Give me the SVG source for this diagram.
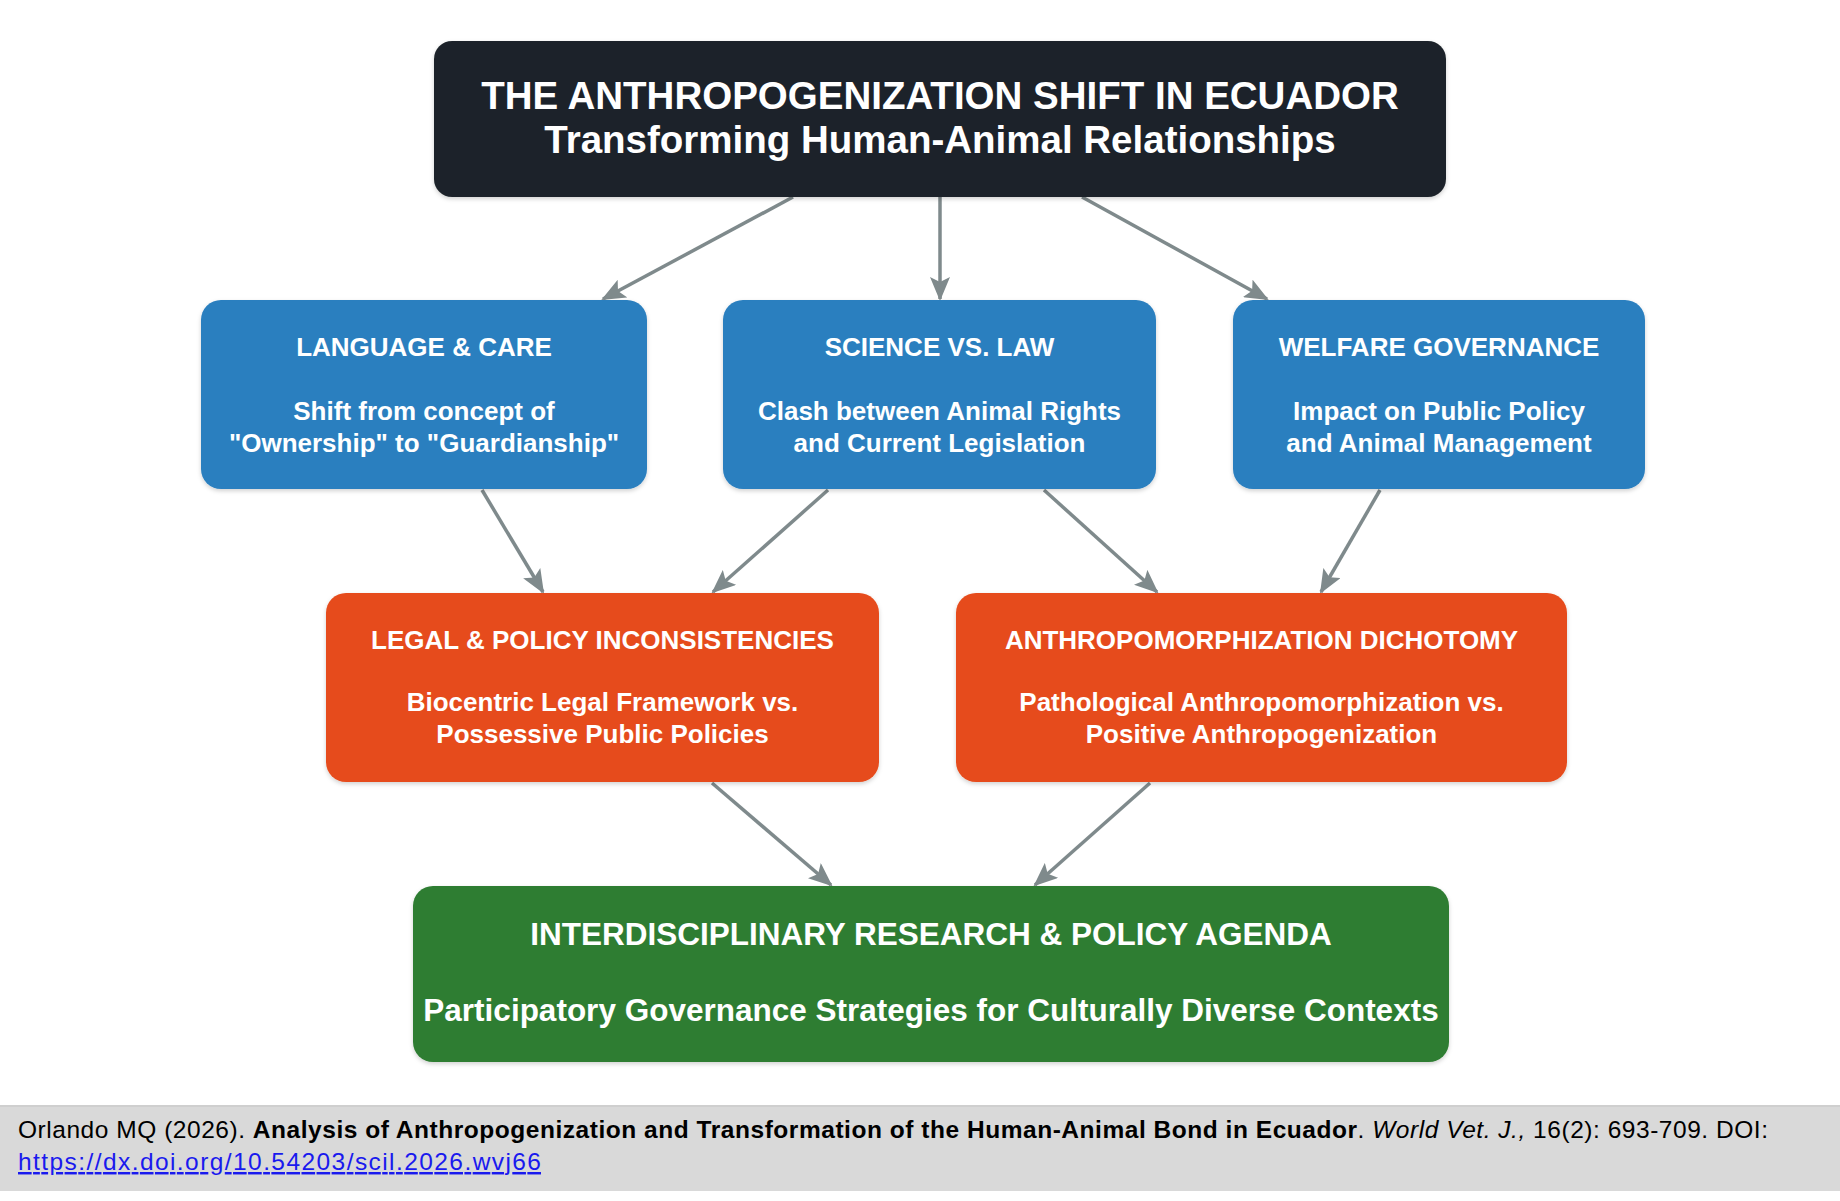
<svg xmlns="http://www.w3.org/2000/svg" width="1840" height="1201" viewBox="0 0 1840 1201">
<style>
.box{stroke:none}
.t{font-family:"Liberation Sans",Arial,sans-serif;font-weight:bold;fill:#ffffff;text-anchor:middle}
.h26{font-size:26px}
.h38{font-size:38.5px}
.h31{font-size:31.5px}
.conn{stroke:#7f8a8c;stroke-width:3.5;fill:none;marker-end:url(#ah)}
.foot{font-family:"Liberation Sans",Arial,sans-serif;font-size:24.5px;fill:#000000}
</style>
<defs>
<marker id="ah" markerUnits="userSpaceOnUse" markerWidth="24" markerHeight="20" viewBox="0 0 24 20" refX="22" refY="10" orient="auto">
<path d="M0,0 L24,10 L0,20 L5,10 z" fill="#7f8a8c"/>
</marker>
<filter id="sh" x="-5%" y="-5%" width="110%" height="115%">
<feDropShadow dx="0" dy="2" stdDeviation="2" flood-color="#000" flood-opacity="0.18"/>
</filter>
</defs>
<rect x="0" y="0" width="1840" height="1201" fill="#ffffff"/>

<g id="connectors">
<line class="conn" x1="793" y1="197" x2="603" y2="299"/>
<line class="conn" x1="940" y1="197" x2="940" y2="299"/>
<line class="conn" x1="1082" y1="197" x2="1267" y2="299"/>
<line class="conn" x1="482" y1="490" x2="543" y2="592"/>
<line class="conn" x1="828" y1="490" x2="713" y2="592"/>
<line class="conn" x1="1044" y1="490" x2="1157" y2="592"/>
<line class="conn" x1="1380" y1="490" x2="1321" y2="592"/>
<line class="conn" x1="712" y1="783" x2="831" y2="885"/>
<line class="conn" x1="1150" y1="783" x2="1035" y2="885"/>
</g>

<g id="title">
<rect class="box" x="434" y="41" width="1012" height="156" rx="18" fill="#1d242a" filter="url(#sh)"/>
<text class="t h38" x="940" y="109">THE ANTHROPOGENIZATION SHIFT IN ECUADOR</text>
<text class="t h38" x="940" y="153">Transforming Human-Animal Relationships</text>
</g>

<g id="language-care">
<rect class="box" x="201" y="300" width="446" height="189" rx="20" fill="#2a7fbf" filter="url(#sh)"/>
<text class="t h26" x="424" y="356">LANGUAGE &amp; CARE</text>
<text class="t h26" x="424" y="420">Shift from concept of</text>
<text class="t h26" x="424" y="452">"Ownership" to "Guardianship"</text>
</g>

<g id="science-law">
<rect class="box" x="723" y="300" width="433" height="189" rx="20" fill="#2a7fbf" filter="url(#sh)"/>
<text class="t h26" x="939.5" y="356">SCIENCE VS. LAW</text>
<text class="t h26" x="939.5" y="420">Clash between Animal Rights</text>
<text class="t h26" x="939.5" y="452">and Current Legislation</text>
</g>

<g id="welfare-governance">
<rect class="box" x="1233" y="300" width="412" height="189" rx="20" fill="#2a7fbf" filter="url(#sh)"/>
<text class="t h26" x="1439" y="356">WELFARE GOVERNANCE</text>
<text class="t h26" x="1439" y="420">Impact on Public Policy</text>
<text class="t h26" x="1439" y="452">and Animal Management</text>
</g>

<g id="legal-policy">
<rect class="box" x="326" y="593" width="553" height="189" rx="20" fill="#e64c1c" filter="url(#sh)"/>
<text class="t h26" x="602.5" y="649">LEGAL &amp; POLICY INCONSISTENCIES</text>
<text class="t h26" x="602.5" y="711">Biocentric Legal Framework vs.</text>
<text class="t h26" x="602.5" y="743">Possessive Public Policies</text>
</g>

<g id="anthropomorphization">
<rect class="box" x="956" y="593" width="611" height="189" rx="20" fill="#e64c1c" filter="url(#sh)"/>
<text class="t h26" x="1261.5" y="649">ANTHROPOMORPHIZATION DICHOTOMY</text>
<text class="t h26" x="1261.5" y="711">Pathological Anthropomorphization vs.</text>
<text class="t h26" x="1261.5" y="743">Positive Anthropogenization</text>
</g>

<g id="research-agenda">
<rect class="box" x="413" y="886" width="1036" height="176" rx="20" fill="#2e7d32" filter="url(#sh)"/>
<text class="t h31" x="931" y="945">INTERDISCIPLINARY RESEARCH &amp; POLICY AGENDA</text>
<text class="t h31" x="931" y="1021">Participatory Governance Strategies for Culturally Diverse Contexts</text>
</g>

<g id="footer">
<rect x="0" y="1105" width="1840" height="86" fill="#d9d9d9"/>
<rect x="0" y="1105" width="1840" height="2" fill="#cfcfcf"/>
<text class="foot" x="18" y="1138" textLength="1750">Orlando MQ (2026). <tspan font-weight="bold">Analysis of Anthropogenization and Transformation of the Human-Animal Bond in Ecuador</tspan>. <tspan font-style="italic">World Vet. J.,</tspan> 16(2): 693-709. DOI:</text>
<text class="foot" x="18" y="1170" style="fill:#1a1aee" text-decoration="underline" textLength="523">https://dx.doi.org/10.54203/scil.2026.wvj66</text>
</g>
</svg>
